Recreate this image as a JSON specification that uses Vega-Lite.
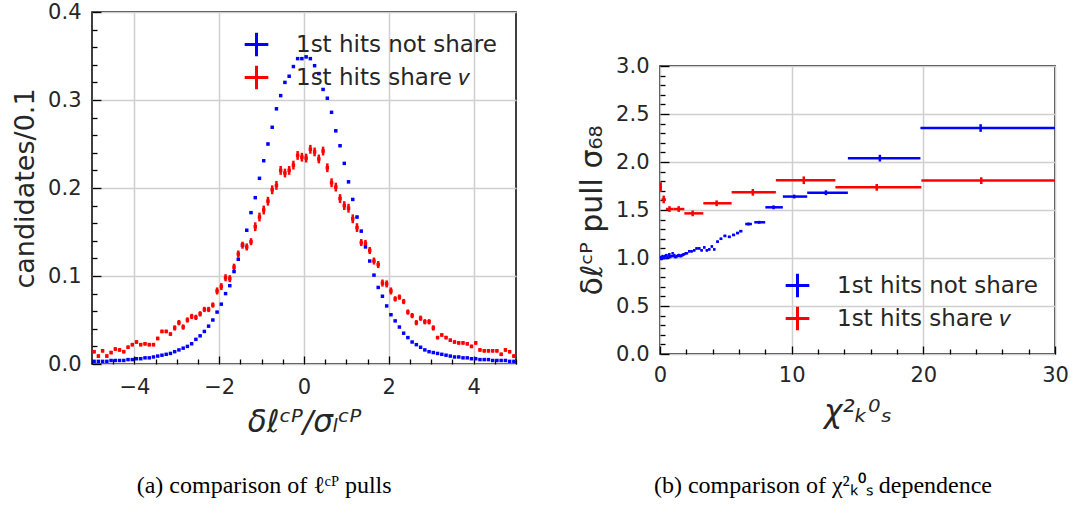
{
  "$schema": "https://vega.github.io/schema/vega-lite/v6.json",
  "padding": {"left": 10, "top": 0, "right": 5, "bottom": 3},
  "background": "white",
  "config": {
    "font": "DejaVu Sans",
    "view": {"stroke": "#000000", "strokeWidth": 1.5},
    "axis": {"labelFont": "DejaVu Sans", "labelFontSize": 21, "labelColor": "#262626", "titleFont": "DejaVu Sans", "titleColor": "#262626", "titleFontWeight": "normal", "domain": false, "tickColor": "#000000", "tickWidth": 1.3, "gridColor": "#cfcfcf", "gridWidth": 1.5, "labelOverlap": false, "labelFlush": false, "labelBound": false, "tickCount": 200},
    "legend": {"title": null, "symbolType": "M-1,0H1M0,-1V1", "symbolSize": 560, "symbolStrokeWidth": 3, "labelFont": "DejaVu Sans", "labelFontSize": 23, "labelColor": "#262626", "labelOffset": 26, "rowPadding": -4, "labelLimit": 400, "padding": 0, "offset": 19}
  },
  "resolve": {"scale": {"color": "independent"}, "legend": {"color": "independent"}},
  "spacing": 58,
  "datasets": {
    "left": [
      {"s":"n","x":-4.95,"y":0.003,"e":0.0005},{"s":"n","x":-4.85,"y":0.003,"e":0.0005},{"s":"n","x":-4.75,"y":0.003,"e":0.0005},{"s":"n","x":-4.65,"y":0.003,"e":0.0005},{"s":"n","x":-4.55,"y":0.004,"e":0.0005},
      {"s":"n","x":-4.45,"y":0.004,"e":0.0005},{"s":"n","x":-4.35,"y":0.004,"e":0.0005},{"s":"n","x":-4.25,"y":0.004,"e":0.0005},{"s":"n","x":-4.15,"y":0.005,"e":0.0005},{"s":"n","x":-4.05,"y":0.005,"e":0.0005},
      {"s":"n","x":-3.95,"y":0.006,"e":0.0005},{"s":"n","x":-3.85,"y":0.006,"e":0.0005},{"s":"n","x":-3.75,"y":0.007,"e":0.0005},{"s":"n","x":-3.65,"y":0.007,"e":0.0005},{"s":"n","x":-3.55,"y":0.008,"e":0.0005},
      {"s":"n","x":-3.45,"y":0.009,"e":0.0005},{"s":"n","x":-3.35,"y":0.010,"e":0.0005},{"s":"n","x":-3.25,"y":0.011,"e":0.0005},{"s":"n","x":-3.15,"y":0.012,"e":0.0005},{"s":"n","x":-3.05,"y":0.014,"e":0.0005},
      {"s":"n","x":-2.95,"y":0.016,"e":0.0005},{"s":"n","x":-2.85,"y":0.018,"e":0.0005},{"s":"n","x":-2.75,"y":0.020,"e":0.001},{"s":"n","x":-2.65,"y":0.023,"e":0.001},{"s":"n","x":-2.55,"y":0.028,"e":0.001},
      {"s":"n","x":-2.45,"y":0.032,"e":0.001},{"s":"n","x":-2.35,"y":0.037,"e":0.001},{"s":"n","x":-2.25,"y":0.043,"e":0.001},{"s":"n","x":-2.15,"y":0.050,"e":0.001},{"s":"n","x":-2.05,"y":0.059,"e":0.001},
      {"s":"n","x":-1.95,"y":0.068,"e":0.001},{"s":"n","x":-1.85,"y":0.080,"e":0.001},{"s":"n","x":-1.75,"y":0.089,"e":0.001},{"s":"n","x":-1.65,"y":0.105,"e":0.001},{"s":"n","x":-1.55,"y":0.119,"e":0.001},
      {"s":"n","x":-1.45,"y":0.135,"e":0.001},{"s":"n","x":-1.35,"y":0.152,"e":0.0015},{"s":"n","x":-1.25,"y":0.172,"e":0.0015},{"s":"n","x":-1.15,"y":0.189,"e":0.0015},{"s":"n","x":-1.05,"y":0.211,"e":0.0015},
      {"s":"n","x":-0.95,"y":0.231,"e":0.0015},{"s":"n","x":-0.85,"y":0.250,"e":0.0015},{"s":"n","x":-0.75,"y":0.269,"e":0.0015},{"s":"n","x":-0.65,"y":0.290,"e":0.0015},{"s":"n","x":-0.55,"y":0.305,"e":0.0015},
      {"s":"n","x":-0.45,"y":0.320,"e":0.0015},{"s":"n","x":-0.35,"y":0.327,"e":0.0015},{"s":"n","x":-0.25,"y":0.338,"e":0.0015},{"s":"n","x":-0.15,"y":0.347,"e":0.0015},{"s":"n","x":-0.05,"y":0.347,"e":0.0015},
      {"s":"n","x":0.05,"y":0.349,"e":0.0015},{"s":"n","x":0.15,"y":0.347,"e":0.0015},{"s":"n","x":0.25,"y":0.339,"e":0.0015},{"s":"n","x":0.35,"y":0.330,"e":0.0015},{"s":"n","x":0.45,"y":0.312,"e":0.0015},
      {"s":"n","x":0.55,"y":0.302,"e":0.0015},{"s":"n","x":0.65,"y":0.286,"e":0.0015},{"s":"n","x":0.75,"y":0.265,"e":0.0015},{"s":"n","x":0.85,"y":0.248,"e":0.0015},{"s":"n","x":0.95,"y":0.228,"e":0.0015},
      {"s":"n","x":1.05,"y":0.207,"e":0.0015},{"s":"n","x":1.15,"y":0.187,"e":0.0015},{"s":"n","x":1.25,"y":0.167,"e":0.0015},{"s":"n","x":1.35,"y":0.151,"e":0.0015},{"s":"n","x":1.45,"y":0.133,"e":0.001},
      {"s":"n","x":1.55,"y":0.117,"e":0.001},{"s":"n","x":1.65,"y":0.101,"e":0.001},{"s":"n","x":1.75,"y":0.087,"e":0.001},{"s":"n","x":1.85,"y":0.077,"e":0.001},{"s":"n","x":1.95,"y":0.066,"e":0.001},
      {"s":"n","x":2.05,"y":0.056,"e":0.001},{"s":"n","x":2.15,"y":0.049,"e":0.001},{"s":"n","x":2.25,"y":0.042,"e":0.001},{"s":"n","x":2.35,"y":0.035,"e":0.001},{"s":"n","x":2.45,"y":0.030,"e":0.001},
      {"s":"n","x":2.55,"y":0.025,"e":0.001},{"s":"n","x":2.65,"y":0.022,"e":0.001},{"s":"n","x":2.75,"y":0.019,"e":0.0005},{"s":"n","x":2.85,"y":0.016,"e":0.0005},{"s":"n","x":2.95,"y":0.014,"e":0.0005},
      {"s":"n","x":3.05,"y":0.013,"e":0.0005},{"s":"n","x":3.15,"y":0.012,"e":0.0005},{"s":"n","x":3.25,"y":0.011,"e":0.0005},{"s":"n","x":3.35,"y":0.010,"e":0.0005},{"s":"n","x":3.45,"y":0.009,"e":0.0005},
      {"s":"n","x":3.55,"y":0.008,"e":0.0005},{"s":"n","x":3.65,"y":0.008,"e":0.0005},{"s":"n","x":3.75,"y":0.007,"e":0.0005},{"s":"n","x":3.85,"y":0.007,"e":0.0005},{"s":"n","x":3.95,"y":0.006,"e":0.0005},
      {"s":"n","x":4.05,"y":0.006,"e":0.0005},{"s":"n","x":4.15,"y":0.005,"e":0.0005},{"s":"n","x":4.25,"y":0.005,"e":0.0005},{"s":"n","x":4.35,"y":0.005,"e":0.0005},{"s":"n","x":4.45,"y":0.004,"e":0.0005},
      {"s":"n","x":4.55,"y":0.004,"e":0.0005},{"s":"n","x":4.65,"y":0.004,"e":0.0005},{"s":"n","x":4.75,"y":0.004,"e":0.0005},{"s":"n","x":4.85,"y":0.003,"e":0.0005},{"s":"n","x":4.95,"y":0.003,"e":0.0005},
      {"s":"v","x":-4.95,"y":0.014,"e":0.002},{"s":"v","x":-4.85,"y":0.009,"e":0.002},{"s":"v","x":-4.75,"y":0.015,"e":0.002},{"s":"v","x":-4.65,"y":0.009,"e":0.002},{"s":"v","x":-4.55,"y":0.013,"e":0.002},
      {"s":"v","x":-4.45,"y":0.017,"e":0.002},{"s":"v","x":-4.35,"y":0.016,"e":0.002},{"s":"v","x":-4.25,"y":0.014,"e":0.002},{"s":"v","x":-4.15,"y":0.019,"e":0.002},{"s":"v","x":-4.05,"y":0.022,"e":0.002},
      {"s":"v","x":-3.95,"y":0.025,"e":0.002},{"s":"v","x":-3.85,"y":0.022,"e":0.002},{"s":"v","x":-3.75,"y":0.023,"e":0.002},{"s":"v","x":-3.65,"y":0.022,"e":0.002},{"s":"v","x":-3.55,"y":0.022,"e":0.002},
      {"s":"v","x":-3.45,"y":0.029,"e":0.002},{"s":"v","x":-3.35,"y":0.037,"e":0.002},{"s":"v","x":-3.25,"y":0.037,"e":0.002},{"s":"v","x":-3.15,"y":0.034,"e":0.002},{"s":"v","x":-3.05,"y":0.041,"e":0.003},
      {"s":"v","x":-2.95,"y":0.047,"e":0.003},{"s":"v","x":-2.85,"y":0.042,"e":0.003},{"s":"v","x":-2.75,"y":0.050,"e":0.003},{"s":"v","x":-2.65,"y":0.054,"e":0.003},{"s":"v","x":-2.55,"y":0.053,"e":0.003},
      {"s":"v","x":-2.45,"y":0.057,"e":0.003},{"s":"v","x":-2.35,"y":0.062,"e":0.003},{"s":"v","x":-2.25,"y":0.062,"e":0.003},{"s":"v","x":-2.15,"y":0.067,"e":0.003},{"s":"v","x":-2.05,"y":0.083,"e":0.004},
      {"s":"v","x":-1.95,"y":0.088,"e":0.004},{"s":"v","x":-1.85,"y":0.098,"e":0.004},{"s":"v","x":-1.75,"y":0.097,"e":0.004},{"s":"v","x":-1.65,"y":0.110,"e":0.004},{"s":"v","x":-1.55,"y":0.125,"e":0.004},
      {"s":"v","x":-1.45,"y":0.135,"e":0.004},{"s":"v","x":-1.35,"y":0.133,"e":0.004},{"s":"v","x":-1.25,"y":0.139,"e":0.004},{"s":"v","x":-1.15,"y":0.156,"e":0.005},{"s":"v","x":-1.05,"y":0.167,"e":0.005},
      {"s":"v","x":-0.95,"y":0.175,"e":0.005},{"s":"v","x":-0.85,"y":0.185,"e":0.005},{"s":"v","x":-0.75,"y":0.198,"e":0.005},{"s":"v","x":-0.65,"y":0.203,"e":0.005},{"s":"v","x":-0.55,"y":0.220,"e":0.005},
      {"s":"v","x":-0.45,"y":0.217,"e":0.005},{"s":"v","x":-0.35,"y":0.220,"e":0.005},{"s":"v","x":-0.25,"y":0.226,"e":0.005},{"s":"v","x":-0.15,"y":0.237,"e":0.005},{"s":"v","x":-0.05,"y":0.235,"e":0.005},
      {"s":"v","x":0.05,"y":0.234,"e":0.005},{"s":"v","x":0.15,"y":0.244,"e":0.005},{"s":"v","x":0.25,"y":0.241,"e":0.005},{"s":"v","x":0.35,"y":0.233,"e":0.005},{"s":"v","x":0.45,"y":0.242,"e":0.005},
      {"s":"v","x":0.55,"y":0.223,"e":0.005},{"s":"v","x":0.65,"y":0.206,"e":0.005},{"s":"v","x":0.75,"y":0.201,"e":0.005},{"s":"v","x":0.85,"y":0.188,"e":0.005},{"s":"v","x":0.95,"y":0.180,"e":0.005},
      {"s":"v","x":1.05,"y":0.177,"e":0.005},{"s":"v","x":1.15,"y":0.165,"e":0.005},{"s":"v","x":1.25,"y":0.155,"e":0.005},{"s":"v","x":1.35,"y":0.138,"e":0.004},{"s":"v","x":1.45,"y":0.137,"e":0.004},
      {"s":"v","x":1.55,"y":0.129,"e":0.004},{"s":"v","x":1.65,"y":0.117,"e":0.004},{"s":"v","x":1.75,"y":0.113,"e":0.004},{"s":"v","x":1.85,"y":0.092,"e":0.004},{"s":"v","x":1.95,"y":0.091,"e":0.004},
      {"s":"v","x":2.05,"y":0.083,"e":0.004},{"s":"v","x":2.15,"y":0.074,"e":0.003},{"s":"v","x":2.25,"y":0.076,"e":0.003},{"s":"v","x":2.35,"y":0.071,"e":0.003},{"s":"v","x":2.45,"y":0.059,"e":0.003},
      {"s":"v","x":2.55,"y":0.055,"e":0.003},{"s":"v","x":2.65,"y":0.047,"e":0.003},{"s":"v","x":2.75,"y":0.052,"e":0.003},{"s":"v","x":2.85,"y":0.048,"e":0.003},{"s":"v","x":2.95,"y":0.048,"e":0.003},
      {"s":"v","x":3.05,"y":0.041,"e":0.003},{"s":"v","x":3.15,"y":0.030,"e":0.002},{"s":"v","x":3.25,"y":0.033,"e":0.002},{"s":"v","x":3.35,"y":0.030,"e":0.002},{"s":"v","x":3.45,"y":0.027,"e":0.002},
      {"s":"v","x":3.55,"y":0.025,"e":0.002},{"s":"v","x":3.65,"y":0.024,"e":0.002},{"s":"v","x":3.75,"y":0.024,"e":0.002},{"s":"v","x":3.85,"y":0.023,"e":0.002},{"s":"v","x":3.95,"y":0.020,"e":0.002},
      {"s":"v","x":4.05,"y":0.024,"e":0.002},{"s":"v","x":4.15,"y":0.016,"e":0.002},{"s":"v","x":4.25,"y":0.015,"e":0.002},{"s":"v","x":4.35,"y":0.015,"e":0.002},{"s":"v","x":4.45,"y":0.015,"e":0.002},
      {"s":"v","x":4.55,"y":0.015,"e":0.002},{"s":"v","x":4.65,"y":0.011,"e":0.002},{"s":"v","x":4.75,"y":0.016,"e":0.002},{"s":"v","x":4.85,"y":0.014,"e":0.002},{"s":"v","x":4.95,"y":0.009,"e":0.002}
    ],
    "right": [
      {"s":"n","x":0.03,"x0":0.0,"x1":0.06,"y":0.99,"e":0.012},{"s":"n","x":0.08,"x0":0.05,"x1":0.11,"y":1.01,"e":0.012},{"s":"n","x":0.14,"x0":0.11,"x1":0.17,"y":0.99,"e":0.012},
      {"s":"n","x":0.2,"x0":0.17,"x1":0.23,"y":1.02,"e":0.012},{"s":"n","x":0.27,"x0":0.24,"x1":0.3,"y":1.0,"e":0.012},{"s":"n","x":0.33,"x0":0.3,"x1":0.36,"y":1.0,"e":0.012},
      {"s":"n","x":0.4,"x0":0.37,"x1":0.43,"y":1.02,"e":0.012},{"s":"n","x":0.46,"x0":0.43,"x1":0.49,"y":1.03,"e":0.012},{"s":"n","x":0.52,"x0":0.49,"x1":0.55,"y":1.0,"e":0.012},
      {"s":"n","x":0.58,"x0":0.55,"x1":0.61,"y":1.01,"e":0.012},{"s":"n","x":0.65,"x0":0.62,"x1":0.68,"y":1.03,"e":0.012},{"s":"n","x":0.71,"x0":0.68,"x1":0.74,"y":1.04,"e":0.012},
      {"s":"n","x":0.77,"x0":0.74,"x1":0.8,"y":1.01,"e":0.012},{"s":"n","x":0.83,"x0":0.8,"x1":0.86,"y":1.02,"e":0.012},{"s":"n","x":0.9,"x0":0.87,"x1":0.93,"y":1.02,"e":0.012},
      {"s":"n","x":0.96,"x0":0.93,"x1":0.99,"y":1.05,"e":0.012},{"s":"n","x":1.03,"x0":1.0,"x1":1.06,"y":1.02,"e":0.012},{"s":"n","x":1.09,"x0":1.06,"x1":1.12,"y":1.03,"e":0.012},
      {"s":"n","x":1.15,"x0":1.12,"x1":1.18,"y":1.01,"e":0.012},{"s":"n","x":1.21,"x0":1.18,"x1":1.24,"y":1.01,"e":0.012},{"s":"n","x":1.28,"x0":1.25,"x1":1.31,"y":1.02,"e":0.012},
      {"s":"n","x":1.34,"x0":1.31,"x1":1.37,"y":1.02,"e":0.012},{"s":"n","x":1.4,"x0":1.37,"x1":1.43,"y":1.03,"e":0.012},{"s":"n","x":1.47,"x0":1.44,"x1":1.5,"y":1.03,"e":0.012},
      {"s":"n","x":1.53,"x0":1.5,"x1":1.56,"y":1.02,"e":0.012},{"s":"n","x":1.6,"x0":1.57,"x1":1.63,"y":1.02,"e":0.012},{"s":"n","x":1.66,"x0":1.63,"x1":1.69,"y":1.03,"e":0.012},
      {"s":"n","x":1.72,"x0":1.69,"x1":1.75,"y":1.03,"e":0.012},{"s":"n","x":1.79,"x0":1.76,"x1":1.82,"y":1.04,"e":0.012},{"s":"n","x":1.85,"x0":1.82,"x1":1.88,"y":1.04,"e":0.012},
      {"s":"n","x":1.95,"x0":1.9,"x1":2.0,"y":1.05,"e":0.012},{"s":"n","x":2.05,"x0":2.0,"x1":2.1,"y":1.05,"e":0.012},{"s":"n","x":2.22,"x0":2.14,"x1":2.3,"y":1.07,"e":0.012},
      {"s":"n","x":2.4,"x0":2.32,"x1":2.48,"y":1.07,"e":0.012},{"s":"n","x":2.6,"x0":2.52,"x1":2.68,"y":1.08,"e":0.012},{"s":"n","x":2.78,"x0":2.7,"x1":2.86,"y":1.1,"e":0.012},
      {"s":"n","x":2.98,"x0":2.9,"x1":3.06,"y":1.1,"e":0.012},{"s":"n","x":3.16,"x0":3.08,"x1":3.24,"y":1.08,"e":0.012},{"s":"n","x":3.36,"x0":3.28,"x1":3.44,"y":1.11,"e":0.012},
      {"s":"n","x":3.56,"x0":3.48,"x1":3.64,"y":1.08,"e":0.012},{"s":"n","x":3.74,"x0":3.66,"x1":3.82,"y":1.09,"e":0.012},{"s":"n","x":3.94,"x0":3.86,"x1":4.02,"y":1.12,"e":0.012},
      {"s":"n","x":4.12,"x0":4.04,"x1":4.2,"y":1.09,"e":0.012},{"s":"n","x":4.37,"x0":4.27,"x1":4.47,"y":1.17,"e":0.012},{"s":"n","x":4.63,"x0":4.53,"x1":4.73,"y":1.2,"e":0.012},
      {"s":"n","x":4.93,"x0":4.82,"x1":5.04,"y":1.23,"e":0.012},{"s":"n","x":5.26,"x0":5.15,"x1":5.37,"y":1.22,"e":0.012},{"s":"n","x":5.59,"x0":5.47,"x1":5.71,"y":1.24,"e":0.012},
      {"s":"n","x":5.89,"x0":5.77,"x1":6.01,"y":1.26,"e":0.012},{"s":"n","x":6.14,"x0":6.02,"x1":6.26,"y":1.28,"e":0.012},{"s":"n","x":6.72,"x0":6.47,"x1":6.98,"y":1.354,"e":0.015},
      {"s":"n","x":7.53,"x0":7.16,"x1":7.99,"y":1.372,"e":0.015},{"s":"n","x":8.62,"x0":8.0,"x1":9.33,"y":1.528,"e":0.02},{"s":"n","x":10.19,"x0":9.33,"x1":11.18,"y":1.64,"e":0.02},
      {"s":"n","x":12.6,"x0":11.18,"x1":14.27,"y":1.68,"e":0.025},{"s":"n","x":16.7,"x0":14.27,"x1":19.78,"y":2.04,"e":0.035},{"s":"n","x":24.35,"x0":19.78,"x1":30.0,"y":2.354,"e":0.04},
      {"s":"v","x":0.05,"x0":0.0,"x1":0.12,"y":1.74,"e":0.05},{"s":"v","x":0.28,"x0":0.12,"x1":0.45,"y":1.61,"e":0.04},{"s":"v","x":0.72,"x0":0.45,"x1":1.04,"y":1.51,"e":0.03},
      {"s":"v","x":1.42,"x0":1.04,"x1":1.85,"y":1.51,"e":0.03},{"s":"v","x":2.48,"x0":1.85,"x1":3.29,"y":1.465,"e":0.03},{"s":"v","x":4.3,"x0":3.29,"x1":5.44,"y":1.57,"e":0.03},
      {"s":"v","x":7.05,"x0":5.44,"x1":8.8,"y":1.684,"e":0.035},{"s":"v","x":10.92,"x0":8.8,"x1":13.32,"y":1.81,"e":0.04},{"s":"v","x":16.46,"x0":13.32,"x1":19.85,"y":1.736,"e":0.035},
      {"s":"v","x":24.4,"x0":19.85,"x1":30.0,"y":1.806,"e":0.035}
    ]
  },
  "hconcat": [
    {
      "width": 424,
      "height": 352,
      "data": {"name": "left"},
      "title": {"text": "(a) comparison of ℓᶜᴾ pulls", "orient": "bottom", "anchor": "middle", "frame": "bounds", "font": "Liberation Serif", "fontSize": 24, "fontWeight": "normal", "color": "#000000", "offset": 37},
      "layer": [
        {
          "mark": {"type": "errorbar", "thickness": 2.5, "clip": true},
          "encoding": {
            "x": {"field": "x", "type": "quantitative", "scale": {"domain": [-5, 5], "nice": false},
              "axis": {"values": [-5,-4.5,-4,-3.5,-3,-2.5,-2,-1.5,-1,-0.5,0,0.5,1,1.5,2,2.5,3,3.5,4,4.5,5],
                "labelOverlap": false, "tickCount": 200,
                "labelExpr": "datum.value % 2 === 0 ? format(datum.value, 'd') : ''",
                "gridOpacity": {"condition": {"test": "datum.value % 2 === 0", "value": 1}, "value": 0},
                "tickSize": {"condition": {"test": "datum.value % 2 === 0", "value": -8}, "value": -5},
                "labelPadding": 20,
                "title": "δℓᶜᴾ/σₗᶜᴾ", "titleFontSize": 31, "titleFontStyle": "italic", "titlePadding": 7}},
            "y": {"field": "y", "type": "quantitative", "scale": {"domain": [0, 0.4], "nice": false},
              "axis": {"values": [0,0.02,0.04,0.06,0.08,0.1,0.12,0.14,0.16,0.18,0.2,0.22,0.24,0.26,0.28,0.3,0.32,0.34,0.36,0.38,0.4],
                "labelOverlap": false, "tickCount": 200,
                "labelExpr": "abs(datum.value*10 - round(datum.value*10)) < 0.000001 ? format(datum.value, '.1f') : ''",
                "gridOpacity": {"condition": {"test": "abs(datum.value*10 - round(datum.value*10)) < 0.000001", "value": 1}, "value": 0},
                "tickSize": {"condition": {"test": "abs(datum.value*10 - round(datum.value*10)) < 0.000001", "value": -9}, "value": -5},
                "labelPadding": 20,
                "title": "candidates/0.1", "titleFontSize": 27, "titlePadding": 8}},
            "yError": {"field": "e"},
            "color": {"field": "s", "type": "nominal", "scale": {"domain": ["n", "v"], "range": ["#0000ff", "#ff0000"]},
              "legend": {"orient": "top-right", "labelExpr": "datum.label == 'n' ? '1st hits not share' : '1st hits share 𝑣'"}}
          }
        },
        {
          "mark": {"type": "point", "shape": "square", "filled": true, "size": 12, "opacity": 1, "clip": true},
          "encoding": {
            "x": {"field": "x", "type": "quantitative"},
            "y": {"field": "y", "type": "quantitative"},
            "color": {"field": "s", "type": "nominal", "legend": null}
          }
        }
      ]
    },
    {
      "spacing": 20,
      "resolve": {"scale": {"color": "independent"}, "legend": {"color": "independent"}},
      "vconcat": [
        {
          "width": 395,
          "height": 22,
          "view": {"stroke": null},
          "data": {"values": [{"t": ""}]},
          "mark": {"type": "text"},
          "encoding": {"text": {"field": "t", "type": "nominal"}}
        },
        {
          "width": 395,
          "height": 288,
          "data": {"name": "right"},
          "title": {"text": "(b) comparison of χ²ₖ⁰ₛ dependence", "orient": "bottom", "anchor": "middle", "frame": "bounds", "font": "Liberation Serif", "fontSize": 24, "fontWeight": "normal", "color": "#000000", "offset": 47},
          "layer": [
            {
              "mark": {"type": "errorbar", "thickness": 2.5, "clip": true},
              "encoding": {
                "x": {"field": "x", "type": "quantitative", "scale": {"domain": [0, 30], "nice": false},
                  "axis": {"values": [0,2,4,6,8,10,12,14,16,18,20,22,24,26,28,30],
                    "labelOverlap": false, "tickCount": 200,
                    "labelExpr": "datum.value % 10 === 0 ? format(datum.value, 'd') : ''",
                    "gridOpacity": {"condition": {"test": "datum.value % 10 === 0", "value": 1}, "value": 0},
                    "tickSize": {"condition": {"test": "datum.value % 10 === 0", "value": -8}, "value": -5},
                    "labelPadding": 18,
                    "title": "χ²ₖ⁰ₛ", "titleFontSize": 31, "titleFontStyle": "italic", "titlePadding": 9}},
                "y": {"field": "y", "type": "quantitative", "scale": {"domain": [0, 3], "nice": false},
                  "axis": {"values": [0,0.1,0.2,0.3,0.4,0.5,0.6,0.7,0.8,0.9,1,1.1,1.2,1.3,1.4,1.5,1.6,1.7,1.8,1.9,2,2.1,2.2,2.3,2.4,2.5,2.6,2.7,2.8,2.9,3],
                    "labelOverlap": false, "tickCount": 200,
                    "labelExpr": "abs(datum.value*2 - round(datum.value*2)) < 0.000001 ? format(datum.value, '.1f') : ''",
                    "gridOpacity": {"condition": {"test": "abs(datum.value*2 - round(datum.value*2)) < 0.000001", "value": 1}, "value": 0},
                    "tickSize": {"condition": {"test": "abs(datum.value*2 - round(datum.value*2)) < 0.000001", "value": -9}, "value": -5},
                    "labelPadding": 20,
                    "title": "δℓᶜᴾ pull σ₆₈", "titleFontSize": 30, "titlePadding": 8}},
                "yError": {"field": "e"},
                "color": {"field": "s", "type": "nominal", "scale": {"domain": ["n", "v"], "range": ["#0000ff", "#ff0000"]},
                  "legend": {"orient": "bottom-right", "offset": 17, "labelExpr": "datum.label == 'n' ? '1st hits not share' : '1st hits share 𝑣'"}}
              }
            },
            {
              "mark": {"type": "rule", "strokeWidth": 2.5, "clip": true},
              "encoding": {
                "x": {"field": "x0", "type": "quantitative"},
                "x2": {"field": "x1"},
                "y": {"field": "y", "type": "quantitative"},
                "color": {"field": "s", "type": "nominal", "legend": null}
              }
            }
          ]
        }
      ]
    }
  ]
}
